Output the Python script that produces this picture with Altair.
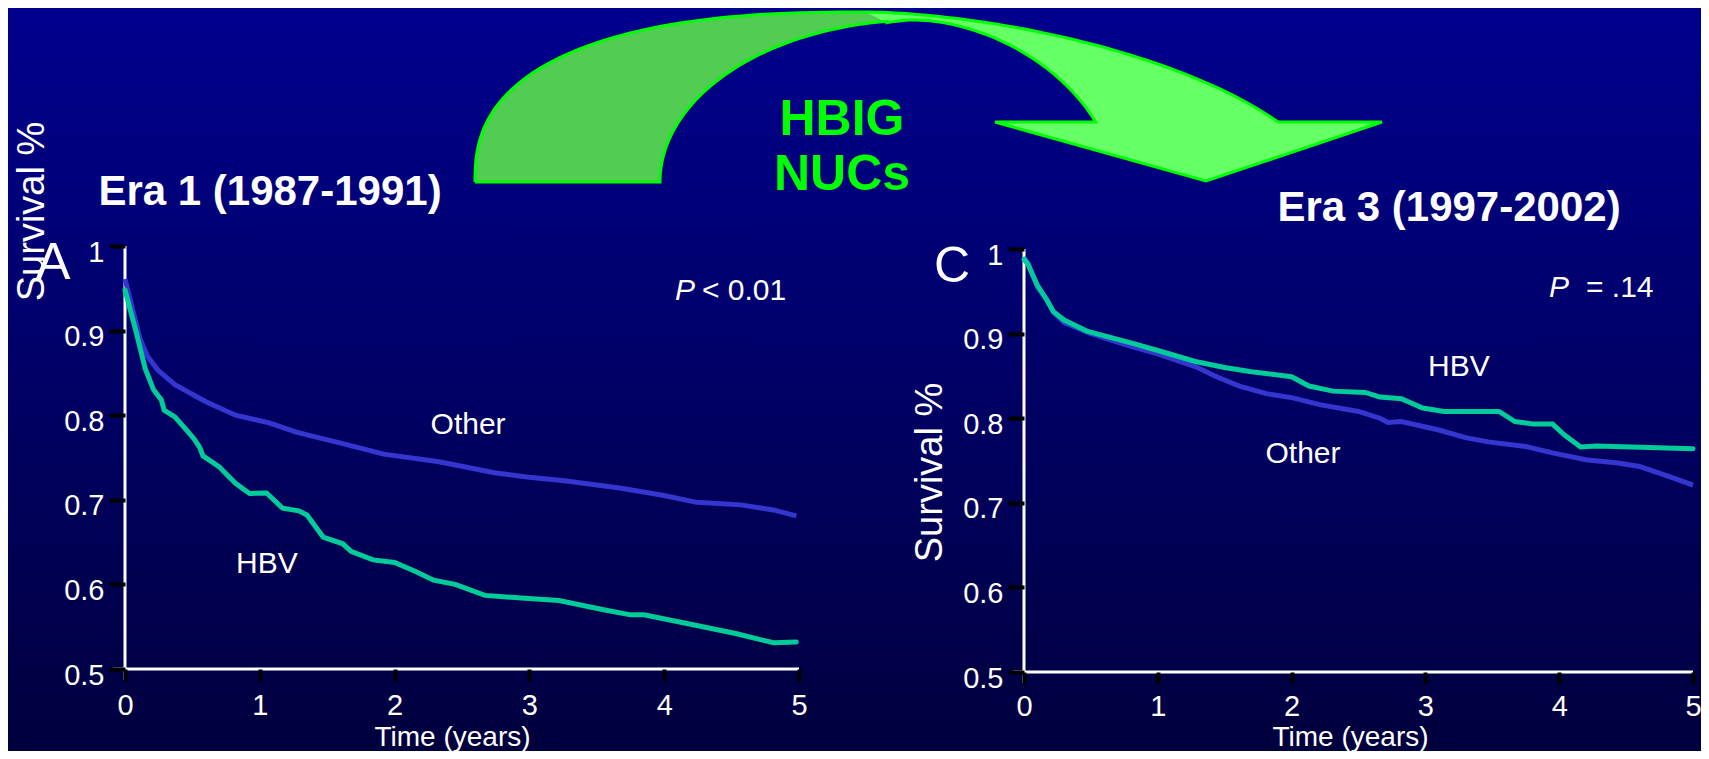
import altair as alt
import pandas as pd
import numpy as np

W, H = 1693, 743
FONT = "Liberation Sans"
BLUE = "#3535CF"
TEAL = "#00CC99"

# ---------------- data ----------------
x_ticks = [0, 1, 2, 3, 4, 5]
y_ticks = [0.5, 0.6, 0.7, 0.8, 0.9, 1.0]

era1_other_t = [0, 0.06, 0.11, 0.165, 0.245, 0.37, 0.6, 0.82, 1.07, 1.27, 1.6, 1.92, 2.33, 2.74,
                2.98, 3.26, 3.67, 4.0, 4.24, 4.57, 4.81, 4.98]
era1_other_s = [0.961, 0.923, 0.891, 0.87, 0.853, 0.836, 0.816, 0.80, 0.791, 0.780, 0.767, 0.754,
                0.745, 0.732, 0.727, 0.7226, 0.714, 0.705, 0.697, 0.694, 0.688, 0.681]

era1_hbv_t = [0, 0.08, 0.15, 0.212, 0.27, 0.29, 0.37, 0.456, 0.517, 0.557, 0.578, 0.70, 0.76, 0.82,
              0.924, 1.05, 1.17, 1.29, 1.35, 1.47, 1.616, 1.677, 1.84, 2.0, 2.16, 2.29, 2.45, 2.67,
              2.94, 3.22, 3.55, 3.75, 3.85, 4.16, 4.53, 4.81, 4.98]
era1_hbv_s = [0.948, 0.90, 0.855, 0.83, 0.818, 0.806, 0.798, 0.7825, 0.771, 0.761, 0.752, 0.739,
              0.729, 0.7195, 0.7075, 0.708, 0.69, 0.687, 0.682, 0.656, 0.648, 0.639, 0.629, 0.626,
              0.615, 0.605, 0.60, 0.587, 0.584, 0.581, 0.57, 0.564, 0.564, 0.554, 0.542, 0.531, 0.532]

era3_other_t = [0, 0.03, 0.1, 0.17, 0.22, 0.3, 0.5, 0.8, 1.0, 1.28, 1.44, 1.61, 1.81, 2.01, 2.21,
                2.5, 2.66, 2.72, 2.82, 3.1, 3.3, 3.47, 3.75, 3.95, 4.2, 4.44, 4.6, 4.84, 5.0]
era3_other_s = [0.99, 0.983, 0.955, 0.94, 0.925, 0.913, 0.90, 0.885, 0.876, 0.861, 0.849, 0.838,
                0.829, 0.824, 0.816, 0.808, 0.80, 0.795, 0.796, 0.786, 0.777, 0.772, 0.7666, 0.759,
                0.751, 0.747, 0.743, 0.73, 0.721]

era3_hbv_t = [0, 0.03, 0.1, 0.17, 0.22, 0.3, 0.47, 0.8, 1.0, 1.28, 1.5, 1.7, 2.0, 2.13, 2.31, 2.55,
              2.66, 2.82, 2.98, 3.14, 3.55, 3.67, 3.81, 3.95, 4.04, 4.16, 4.28, 5.0]
era3_hbv_s = [0.988, 0.982, 0.957, 0.94, 0.926, 0.916, 0.903, 0.889, 0.88, 0.867, 0.86, 0.855,
              0.849, 0.838, 0.832, 0.8305, 0.825, 0.823, 0.812, 0.808, 0.808, 0.796, 0.793, 0.793,
              0.78, 0.766, 0.767, 0.764]

era1_label_text = ["Other", "HBV"]
era1_label_t = [2.545, 1.053]
era1_label_s = [0.778, 0.6135]
era3_label_text = ["HBV", "Other"]
era3_label_t = [3.25, 2.085]
era3_label_s = [0.850, 0.747]

# ---------------- helpers ----------------
def series_df(t, s):
    return pd.DataFrame({"t": t, "s": s})


def x_axis(offset, title_x, title_y, pad):
    return alt.Axis(orient="bottom", offset=offset, values=x_ticks, format="d", domain=False,
                    grid=False, tickColor="black", tickWidth=4, tickSize=12,
                    labelColor="white", labelFont=FONT, labelFontSize=29, labelPadding=pad,
                    labelBaseline="alphabetic", labelFlush=False, labelOverlap=False,
                    title="Time (years)", titleColor="white", titleFont=FONT, titleFontSize=28,
                    titleFontWeight="normal", titleX=title_x, titleY=title_y, titleAlign="center",
                    titleBaseline="alphabetic", zindex=1)


def y_axis(offset, title_x, title_y):
    return alt.Axis(orient="left", offset=offset, values=y_ticks, format="~g", domain=False,
                    grid=False, tickColor="black", tickWidth=4, tickSize=16,
                    labelColor="white", labelFont=FONT, labelFontSize=29, labelPadding=5,
                    labelBaseline="alphabetic", labelOffset=15, labelAlign="right",
                    labelFlush=False, labelOverlap=False,
                    title="Survival %", titleColor="white", titleFont=FONT, titleFontSize=38,
                    titleFontWeight="normal", titleX=title_x, titleY=title_y, titleAngle=270,
                    titleAlign="center", titleBaseline="alphabetic", zindex=1)


def panel(other, hbv, labels, xr, yr, ax_off_x, ax_off_y, xt, yt, pad, left_ext, down_ext):
    xs = alt.Scale(domain=[0, 5], range=xr)
    ys = alt.Scale(domain=[0.5, 1], range=yr)
    axes_df = pd.DataFrame({"x": [left_ext, 0], "x2": [5, 0], "y": [0.5, 1.0], "y2": [0.5, down_ext]})
    rules = alt.Chart(axes_df).mark_rule(color="white", strokeWidth=3).encode(
        x=alt.X("x:Q", scale=xs, axis=x_axis(ax_off_y, xt[0], xt[1], pad)),
        x2="x2:Q",
        y=alt.Y("y:Q", scale=ys, axis=y_axis(ax_off_x, yt[0], yt[1])),
        y2="y2:Q",
    )
    l_other = alt.Chart(other).mark_line(color=BLUE, strokeWidth=5).encode(
        x=alt.X("t:Q", scale=xs), y=alt.Y("s:Q", scale=ys))
    l_hbv = alt.Chart(hbv).mark_line(color=TEAL, strokeWidth=5, strokeCap="round").encode(
        x=alt.X("t:Q", scale=xs), y=alt.Y("s:Q", scale=ys))
    txt = alt.Chart(labels).mark_text(color="white", font=FONT, fontSize=30, align="center",
                                      baseline="alphabetic").encode(
        x=alt.X("t:Q", scale=xs), y=alt.Y("s:Q", scale=ys), text="label:N")
    return alt.layer(rules, l_other, l_hbv, txt)


def text_at(s, x, y, size=30, weight="normal", style="normal", color="white", align="center"):
    return alt.Chart(pd.DataFrame({"s": [s]})).mark_text(
        font=FONT, fontSize=size, fontWeight=weight, fontStyle=style, color=color,
        align=align, baseline="alphabetic").encode(text="s:N", x=alt.value(x), y=alt.value(y))


# ---------------- curved arrow (page pixel space) ----------------
def sup(cx, cy, a, b, n, t):
    c, s = np.cos(t), np.sin(t)
    return cx + a * np.sign(c) * np.abs(c) ** (2 / n), cy - b * np.abs(s) ** (2 / n)

ox, oy = sup(865, 182, 390, 170, 2.5, np.linspace(np.pi, np.pi / 2, 60))
t_end = np.arcsin((60 / 170) ** (1.7 / 2))
rx, ry = sup(865, 182, 461, 170, 1.7, np.linspace(np.pi / 2, t_end, 60))
t_ie = np.arcsin((60 / 162) ** (1.8 / 2))
irx, iry = sup(915, 182, 200, 162, 1.8, np.linspace(t_ie, np.arccos(-0.1706), 50))
ilx, ily = sup(920, 182, 260, 162, 2.0, np.linspace(np.arccos(-33 / 260), np.pi, 50))
head_x = [rx[-1], 1382, 1206, 995, irx[0]]
head_y = [ry[-1], 122, 181, 122, iry[0]]

dark_x = list(ox) + list(ilx) + [ox[0]]
dark_y = list(oy) + list(ily) + [oy[0]]
light_x = [ox[-1]] + list(rx) + head_x + list(irx) + [ox[-1]]
light_y = [oy[-1]] + list(ry) + head_y + list(iry) + [oy[-1]]
out_x = list(ox) + list(rx) + head_x + list(irx) + list(ilx) + [ox[0]]
out_y = list(oy) + list(ry) + head_y + list(iry) + list(ily) + [oy[0]]

axs = alt.Scale(domain=[8, 8 + W], range=[0, W])
ays = alt.Scale(domain=[8, 8 + H], range=[0, H])


def poly(xs_, ys_, **kw):
    df = pd.DataFrame({"x": xs_, "y": ys_, "i": range(len(xs_))})
    return alt.Chart(df).mark_line(**kw).encode(
        x=alt.X("x:Q", scale=axs, axis=None), y=alt.Y("y:Q", scale=ays, axis=None),
        order="i:Q")

arrow = alt.layer(
    poly(dark_x, dark_y, fill="#52CC52", strokeWidth=0),
    poly(light_x, light_y, fill="#66FF66", strokeWidth=0),
    poly(out_x, out_y, color="#00FF00", strokeWidth=3, strokeJoin="miter"),
)

bg = alt.Chart(pd.DataFrame({"a": [0]})).mark_rect(
    fill={"gradient": "linear", "x1": 0, "x2": 0, "y1": 0, "y2": 1,
          "stops": [{"offset": 0, "color": "#00008E"}, {"offset": 1, "color": "#00003E"}]}
).encode(x=alt.value(0), x2=alt.value(W), y=alt.value(0), y2=alt.value(H))

left = panel(series_df(era1_other_t, era1_other_s), series_df(era1_hbv_t, era1_hbv_s),
             pd.DataFrame({"label": era1_label_text, "t": era1_label_t, "s": era1_label_s}),
             [117, 791], [661, 238], -117, 661 - H, (444, 76), (-82, 203), 33, -0.09, 0.487)
right = panel(series_df(era3_other_t, era3_other_s), series_df(era3_hbv_t, era3_hbv_s),
              pd.DataFrame({"label": era3_label_text, "t": era3_label_t, "s": era3_label_s}),
              [1016, 1685], [664, 241], -1016, 664 - H, (1342, 73), (-83, 464), 31, -0.082, 0.487)

texts = [
    text_at("Era 1 (1987-1991)", 262, 197, size=42, weight="bold"),
    text_at("Era 3 (1997-2002)", 1441, 213, size=42, weight="bold"),
    text_at("HBIG", 834, 127, size=50, weight="bold", color="#00FF00"),
    text_at("NUCs", 834, 182, size=50, weight="bold", color="#00FF00"),
    text_at("A", 45, 271, size=52),
    text_at("C", 944, 274, size=50),
    text_at("P", 667, 292, size=30, style="italic", align="left"),
    text_at("< 0.01", 694, 292, size=30, align="left"),
    text_at("P", 1541, 289, size=30, style="italic", align="left"),
    text_at("= .14", 1578, 289, size=30, align="left"),
]

chart = alt.layer(bg, arrow, left, right, *texts).resolve_scale(
    x="independent", y="independent"
).properties(
    width=W, height=H, autosize=alt.AutoSizeParams(type="none"), padding=0
).configure(background="#000070", font=FONT).configure_view(strokeWidth=0)

chart.save("out.html", embed_options={"renderer": "svg", "actions": False})
